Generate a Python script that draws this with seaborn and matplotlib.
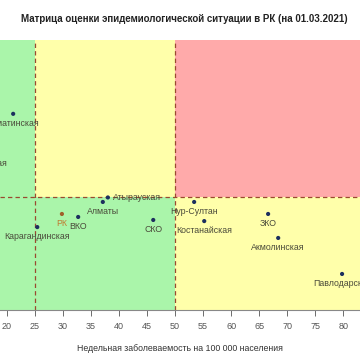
import numpy as np
import pandas as pd
import seaborn as sns
import matplotlib.pyplot as plt

# Данные по регионам (x - недельная заболеваемость, y - индекс)
regions = ["Алматинская", "Жамбылская", "Атырауская", "Алматы", "РК", "ВКО",
           "Карагандинская", "СКО", "Нур-Султан", "Костанайская", "ЗКО",
           "Акмолинская", "Павлодарская"]
incidence = [21.1, 15.4, 38.0, 37.1, 29.8, 32.7, 25.4, 46.1, 53.4, 55.2, 66.6, 68.4, 79.8]
index_r = [1.223, 1.116, 1.000, 0.988, 0.956, 0.948, 0.921, 0.940, 0.988, 0.937, 0.956, 0.892, 0.796]

# Пороговые значения
x_low, x_high = 25, 50
y_thr = 1.0
xlim = (18.75, 83.0)
ylim = (0.70, 1.42)
xticks = list(range(20, 85, 5))

df = pd.DataFrame({"region": regions, "x": incidence, "y": index_r})
df["kind"] = np.where(df["region"] == "РК", "rk", "reg")

sns.set_theme(style="white")
plt.rcParams["font.family"] = ["Liberation Sans", "DejaVu Sans"]

fig = plt.figure(figsize=(3.6, 3.6), dpi=100)
ax = fig.add_axes([0.0, 0.139, 1.0, 0.75])

green, yellow, red = "#aaf5aa", "#ffffaa", "#ffaaaa"
# Зоны матрицы
ax.fill_between([xlim[0], x_low], ylim[0], ylim[1], color=green, lw=0, zorder=0)
ax.fill_between([x_low, x_high], ylim[0], y_thr, color=green, lw=0, zorder=0)
ax.fill_between([x_low, x_high], y_thr, ylim[1], color=yellow, lw=0, zorder=0)
ax.fill_between([x_high, xlim[1]], ylim[0], y_thr, color=yellow, lw=0, zorder=0)
ax.fill_between([x_high, xlim[1]], y_thr, ylim[1], color=red, lw=0, zorder=0)

dash = dict(color="#9a4a30", lw=0.9, ls=(0, (3.5, 2.5)), zorder=1)
ax.axvline(x_low, **dash)
ax.axvline(x_high, **dash)
ax.axhline(y_thr, **dash)

sns.scatterplot(data=df, x="x", y="y", hue="kind",
                palette={"reg": "#1c2f5e", "rk": "#a0602a"},
                s=9, edgecolor="none", legend=False, ax=ax, zorder=3)

lab_color = "#4a4a3a"
for r, x, y in zip(regions, incidence, index_r):
    if r == "РК":
        ax.text(x, y - 0.014, r, ha="center", va="top", fontsize=6.3, color="#c07a30")
    elif r == "Атырауская":
        ax.text(x + 0.9, y, r, ha="left", va="center", fontsize=6.3, color=lab_color)
    else:
        ax.text(x, y - 0.014, r, ha="center", va="top", fontsize=6.3, color=lab_color)

ax.set_xlim(*xlim)
ax.set_ylim(*ylim)
ax.set_xticks(xticks)
ax.set_yticks([])
ax.tick_params(axis="x", labelsize=6.5, colors="#555555", length=4, width=0.6,
               direction="out", bottom=True, pad=5)
for side in ["top", "left", "right"]:
    ax.spines[side].set_visible(False)
ax.spines["bottom"].set_color("#888888")
ax.spines["bottom"].set_linewidth(0.8)
ax.set_xlabel("Недельная заболеваемость на 100 000 населения", fontsize=6.3,
              color="#333333", labelpad=9)
ax.set_ylabel("")

fig.text(0.513, 0.948, "Матрица оценки эпидемиологической ситуации в РК (на 01.03.2021)",
         ha="center", va="center", fontsize=7, fontweight="bold", color="#222222")

fig.savefig("out.png", dpi=100)
